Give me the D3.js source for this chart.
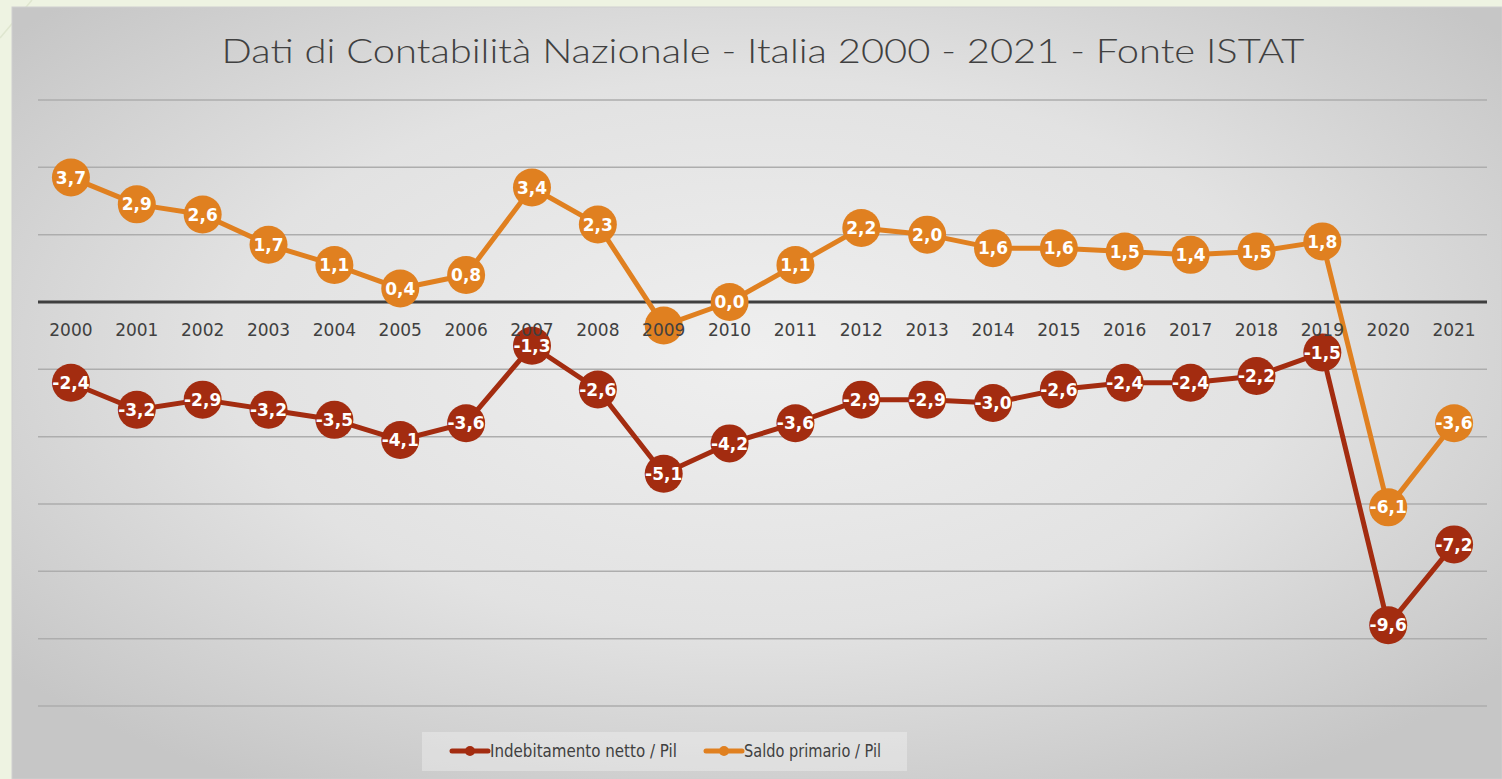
<!DOCTYPE html>
<html>
<head>
<meta charset="utf-8">
<script src="https://cdn.jsdelivr.net/npm/d3@7"></script>
<style>
  body { margin: 0; background: #eef3e2; overflow: hidden; }
  svg { display: block; }
</style>
</head>
<body>
<script>
// data
const years = ["2000","2001","2002","2003","2004","2005","2006","2007","2008","2009","2010",
  "2011","2012","2013","2014","2015","2016","2017","2018","2019","2020","2021"];
const indebitamento = [-2.4,-3.2,-2.9,-3.2,-3.5,-4.1,-3.6,-1.3,-2.6,-5.1,-4.2,
  -3.6,-2.9,-2.9,-3.0,-2.6,-2.4,-2.4,-2.2,-1.5,-9.6,-7.2];
const saldoPrimario = [3.7,2.9,2.6,1.7,1.1,0.4,0.8,3.4,2.3,-0.7,0.0,
  1.1,2.2,2.0,1.6,1.6,1.5,1.4,1.5,1.8,-6.1,-3.6];
const hiddenLabels = ["2009"]; // saldo label hidden behind the axis label
const yTicks = [-12,-10,-8,-6,-4,-2,0,2,4,6];
const seriesNames = ["Indebitamento netto / Pil", "Saldo primario / Pil"];
const colors = ["#a32c10", "#e08020"];

const W = 1502, H = 779;
const fontFamily = "'Century Gothic', 'DejaVu Sans', sans-serif";
const thinFont = "Lato, 'DejaVu Sans', sans-serif";

const svg = d3.select("body").append("svg")
  .attr("width", W)
  .attr("height", H);

const defs = svg.append("defs");
const grad = defs.append("radialGradient")
  .attr("id", "bg")
  .attr("cx", "50%").attr("cy", "45%").attr("r", "65%");
grad.append("stop").attr("offset", "0%").attr("stop-color", "#efefef");
grad.append("stop").attr("offset", "55%").attr("stop-color", "#e2e2e2");
grad.append("stop").attr("offset", "100%").attr("stop-color", "#c6c6c6");

// page background decoration
svg.append("rect").attr("width", W).attr("height", H).attr("fill", "#eef3e2");
svg.append("line").attr("x1", 0).attr("y1", 38).attr("x2", 32).attr("y2", 0)
  .attr("stroke", "#dfe6cf").attr("stroke-width", 1.5);

// chart area
svg.append("rect")
  .attr("x", 12).attr("y", 7)
  .attr("width", W - 12).attr("height", H - 7)
  .attr("fill", "url(#bg)")
  .attr("stroke", "#cfcfcf");

// title
svg.append("text")
  .attr("x", 763).attr("y", 63)
  .attr("text-anchor", "middle")
  .attr("font-family", thinFont)
  .attr("font-weight", 300)
  .attr("font-size", 34)
  .attr("fill", "#404040")
  .attr("textLength", 1083)
  .attr("lengthAdjust", "spacingAndGlyphs")
  .text("Dati di Contabilità Nazionale - Italia 2000 - 2021 - Fonte ISTAT");

// scales
const x = d3.scaleBand().domain(years).range([38, 1487]);
const y = d3.scaleLinear().domain([-12, 6]).range([706, 100]);
const cx = d => x(d) + x.bandwidth() / 2;

// gridlines
svg.append("g").selectAll("line")
  .data(yTicks.filter(t => t !== 0))
  .join("line")
  .attr("x1", 38).attr("x2", 1487)
  .attr("y1", d => y(d)).attr("y2", d => y(d))
  .attr("stroke", "#adadad")
  .attr("stroke-width", 1.5);

// zero line
svg.append("line")
  .attr("x1", 38).attr("x2", 1487)
  .attr("y1", y(0)).attr("y2", y(0))
  .attr("stroke", "#3f3f3f")
  .attr("stroke-width", 3);

const fmt = v => d3.format(".1f")(v).replace(".", ",").replace("−", "-");

[indebitamento, saldoPrimario].forEach(function (values, i) {
  const pts = years.map((yr, j) => ({ year: yr, value: values[j] }));
  const g = svg.append("g");
  g.append("path")
    .datum(pts)
    .attr("fill", "none")
    .attr("stroke", colors[i])
    .attr("stroke-width", 5)
    .attr("stroke-linejoin", "round")
    .attr("d", d3.line().x(d => cx(d.year)).y(d => y(d.value)));

  g.selectAll("circle")
    .data(pts)
    .join("circle")
    .attr("cx", d => cx(d.year))
    .attr("cy", d => y(d.value))
    .attr("r", 19)
    .attr("fill", colors[i]);

  g.selectAll("text")
    .data(pts.filter(d => !(i === 1 && hiddenLabels.includes(d.year))))
    .join("text")
    .attr("x", d => cx(d.year))
    .attr("y", d => y(d.value))
    .attr("dy", "0.36em")
    .attr("text-anchor", "middle")
    .attr("font-family", fontFamily)
    .attr("font-weight", "bold")
    .attr("font-size", 17)
    .attr("fill", "#ffffff")
    .text(d => fmt(d.value));
});

// category labels, on top of the markers
svg.append("g").selectAll("text")
  .data(years)
  .join("text")
  .attr("x", d => cx(d))
  .attr("y", y(0) + 28)
  .attr("dy", "0.36em")
  .attr("text-anchor", "middle")
  .attr("font-family", fontFamily)
  .attr("font-size", 17)
  .attr("fill", "#404040")
  .text(d => d);

// legend
const legend = svg.append("g");
legend.append("rect")
  .attr("x", 422).attr("y", 732)
  .attr("width", 485).attr("height", 39)
  .attr("fill", "#ffffff").attr("fill-opacity", 0.3);

const legendX = [452, 706];
const legendLen = [187, 137];
seriesNames.forEach(function (name, i) {
  const lx = legendX[i];
  legend.append("line")
    .attr("x1", lx).attr("x2", lx + 36)
    .attr("y1", 751).attr("y2", 751)
    .attr("stroke", colors[i]).attr("stroke-width", 5)
    .attr("stroke-linecap", "round");
  legend.append("circle")
    .attr("cx", lx + 18).attr("cy", 751).attr("r", 5)
    .attr("fill", colors[i]);
  legend.append("text")
    .attr("x", lx + 38).attr("y", 751)
    .attr("dy", "0.36em")
    .attr("font-family", fontFamily)
    .attr("font-size", 18)
    .attr("fill", "#404040")
    .attr("textLength", legendLen[i])
    .attr("lengthAdjust", "spacingAndGlyphs")
    .text(name);
});
</script>
</body>
</html>
